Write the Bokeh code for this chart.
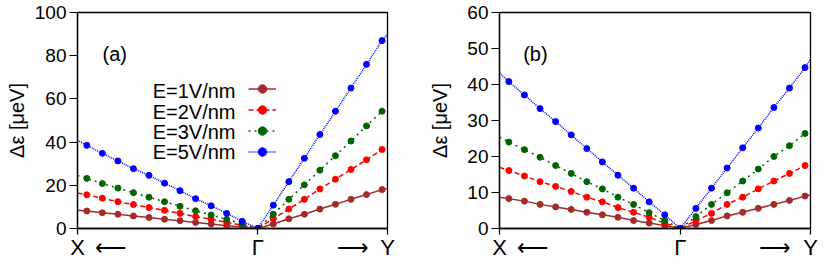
from bokeh.plotting import figure
from bokeh.models import Range1d, FixedTicker, Label, Legend, LegendItem, LinearAxis
from bokeh.layouts import row
from bokeh.embed import file_html
from bokeh.resources import INLINE

# ---- data ----
K_X = -11.6          # X point (left end of the path)
K_Y = 8.35           # Y point (right end of the path)
k_marks = [-11, -10, -9, -8, -7, -6, -5, -4, -3, -2, -1, 0, 1, 2, 3, 4, 5, 6, 7, 8]
x_tick_labels = ["X", "Γ", "Y"]
series_labels = ["E=1V/nm", "E=2V/nm", "E=3V/nm", "E=5V/nm"]

a_y_ticks = [0, 20, 40, 60, 80, 100]
b_y_ticks = [0, 10, 20, 30, 40, 50, 60]

# panel (a)
a_E1 = [8.1, 7.3, 6.6, 5.8, 5.1, 4.3, 3.6, 2.8, 2.1, 1.3, 0.7, 0.0, 2.1, 4.5, 6.6, 9.0, 11.2, 13.5, 15.7, 18.0]
a_E2 = [15.6, 14.0, 12.4, 11.1, 9.7, 8.4, 7.0, 5.5, 4.3, 2.8, 1.5, 0.0, 4.5, 9.0, 13.5, 18.3, 22.8, 27.3, 31.8, 36.6]
a_E3 = [23.2, 20.8, 18.7, 16.6, 14.5, 12.4, 10.3, 8.2, 6.3, 4.2, 2.1, 0.0, 6.6, 13.5, 20.2, 27.0, 33.7, 40.5, 47.5, 54.3]
a_E5 = [38.5, 34.8, 31.3, 27.7, 24.6, 21.0, 17.5, 13.8, 10.5, 7.0, 3.3, 0.0, 10.8, 21.7, 32.5, 43.5, 54.3, 65.0, 76.0, 87.0]
a_edges = [[8.5, 18.5], [16.4, 37.6], [24.5, 55.6], [40.8, 90.0]]

# panel (b)
b_E1 = [8.3, 7.6, 6.7, 6.0, 5.3, 4.5, 3.8, 3.1, 2.2, 1.5, 0.8, 0.0, 1.1, 2.2, 3.5, 4.5, 5.6, 6.7, 7.8, 9.0]
b_E2 = [16.1, 14.6, 13.0, 11.7, 10.3, 8.7, 7.4, 5.8, 4.5, 3.1, 1.5, 0.0, 2.2, 4.2, 6.7, 8.7, 11.0, 13.2, 15.3, 17.5]
b_E3 = [24.0, 21.9, 19.8, 17.5, 15.3, 13.0, 11.0, 8.7, 6.7, 4.4, 2.2, 0.0, 3.3, 6.7, 9.9, 13.2, 16.5, 20.0, 23.0, 26.4]
b_E5 = [40.8, 37.1, 33.3, 29.7, 26.0, 22.2, 18.5, 14.8, 11.2, 7.4, 3.8, 0.0, 5.6, 11.2, 16.8, 22.4, 27.9, 33.6, 39.0, 44.7]
b_edges = [[8.7, 9.3], [17.0, 18.2], [25.4, 27.2], [43.2, 47.0]]

# ---- styles ----
COLORS = ["#a52a2a", "#ff0000", "#006400", "#0000ff"]
DASHES = ["solid", "5 3", "2 4", "1 1"]
FONT = "Liberation Sans"
H = 262
ARROW_L_POS = -9.45  # where the direction arrows sit along the path axis
ARROW_R_POS = 6.1


def make_panel(width, b_left, b_right, y_ticks, series, edges, tag, tag_x, tag_y,
               label_standoff, legend_spec=None):
    y_top = y_ticks[-1]
    p = figure(width=width, height=H, output_backend="svg", toolbar_location=None,
               x_range=Range1d(K_X, K_Y), y_range=Range1d(y_ticks[0], y_top),
               min_border_left=b_left, min_border_right=b_right,
               min_border_top=12, min_border_bottom=33)
    p.grid.visible = False
    p.outline_line_color = "black"
    p.outline_line_width = 1.3
    p.outline_line_alpha = 1.0
    p.background_fill_color = "white"
    p.border_fill_color = "white"

    # y axis
    ya = p.yaxis[0]
    ya.ticker = FixedTicker(ticks=y_ticks)
    ya.minor_tick_line_color = None
    ya.major_tick_in = 0
    ya.major_tick_out = 8
    ya.major_tick_line_width = 1.2
    ya.axis_line_width = 1.3
    ya.major_label_standoff = 3
    ya.major_label_text_font = FONT
    ya.major_label_text_font_size = "19px"
    ya.major_label_text_color = "black"
    ya.axis_label = "Δε [μeV]"
    ya.axis_label_text_font = FONT
    ya.axis_label_text_font_size = "20px"
    ya.axis_label_text_font_style = "normal"
    ya.axis_label_text_color = "black"
    ya.axis_label_standoff = label_standoff

    # x axis: inner axis carries the tick marks at X, Γ, Y
    xa = p.xaxis[0]
    xa.ticker = FixedTicker(ticks=[K_X, 0, K_Y])
    xa.minor_tick_line_color = None
    xa.major_tick_in = 0
    xa.major_tick_out = 6
    xa.major_tick_line_width = 1.2
    xa.axis_line_width = 1.3
    xa.major_label_standoff = 0
    xa.major_label_text_font_size = "0px"
    xa.major_label_text_alpha = 0

    # outer axis carries the labels and the direction arrows
    xl = LinearAxis(ticker=FixedTicker(ticks=[K_X, ARROW_L_POS, 0, ARROW_R_POS, K_Y]))
    xl.major_label_overrides = {K_X: x_tick_labels[0], ARROW_L_POS: "⟵", 0: x_tick_labels[1],
                                ARROW_R_POS: "⟶", K_Y: x_tick_labels[2]}
    xl.axis_line_color = None
    xl.major_tick_line_color = None
    xl.minor_tick_line_color = None
    xl.major_tick_in = 0
    xl.major_tick_out = 0
    xl.major_label_standoff = 0
    xl.major_label_text_font = FONT
    xl.major_label_text_font_size = "22px"
    xl.major_label_text_color = "black"
    p.add_layout(xl, "below")

    k_line = [K_X] + k_marks + [K_Y]
    items = []
    for vals, edge, col, dash, lab in zip(series, edges, COLORS, DASHES, series_labels):
        yl = [edge[0]] + vals + [edge[1]]
        lr = p.line(k_line, yl, line_color=col, line_width=1.5, line_dash=dash)
        sr = p.scatter(k_marks, vals, size=6, fill_color=col, line_color=col)
        items.append(LegendItem(label=" ", renderers=[lr, sr]))

    p.add_layout(Label(x=tag_x, y=tag_y, text=tag, text_align="center", text_baseline="middle",
                       text_font=FONT, text_font_size="20px", text_color="black"))

    if legend_spec is not None:
        lx, ly_list, loc = legend_spec
        leg = Legend(items=items, location=loc, orientation="vertical",
                     glyph_width=28, glyph_height=21, label_height=21, label_width=0,
                     label_standoff=0, spacing=0, padding=0, margin=0,
                     border_line_alpha=0, background_fill_alpha=0)
        p.add_layout(leg, "center")
        for lab, yy in zip(series_labels, ly_list):
            p.add_layout(Label(x=lx, y=yy, text=lab, text_align="right", text_baseline="middle",
                               text_font=FONT, text_font_size="20px", text_color="black"))
    return p


pa = make_panel(410, 77, 23, a_y_ticks, [a_E1, a_E2, a_E3, a_E5], a_edges, "(a)", -9.2, 81, 4,
                legend_spec=(-1.43, [63.8, 54.0, 44.6, 35.3], (171, 66)))
pb = make_panel(413, 89, 13, b_y_ticks, [b_E1, b_E2, b_E3, b_E5], b_edges, "(b)", -9.3, 48.4, 13)

layout = row(pa, pb, spacing=0)
open("out.html", "w").write(file_html(layout, INLINE))
